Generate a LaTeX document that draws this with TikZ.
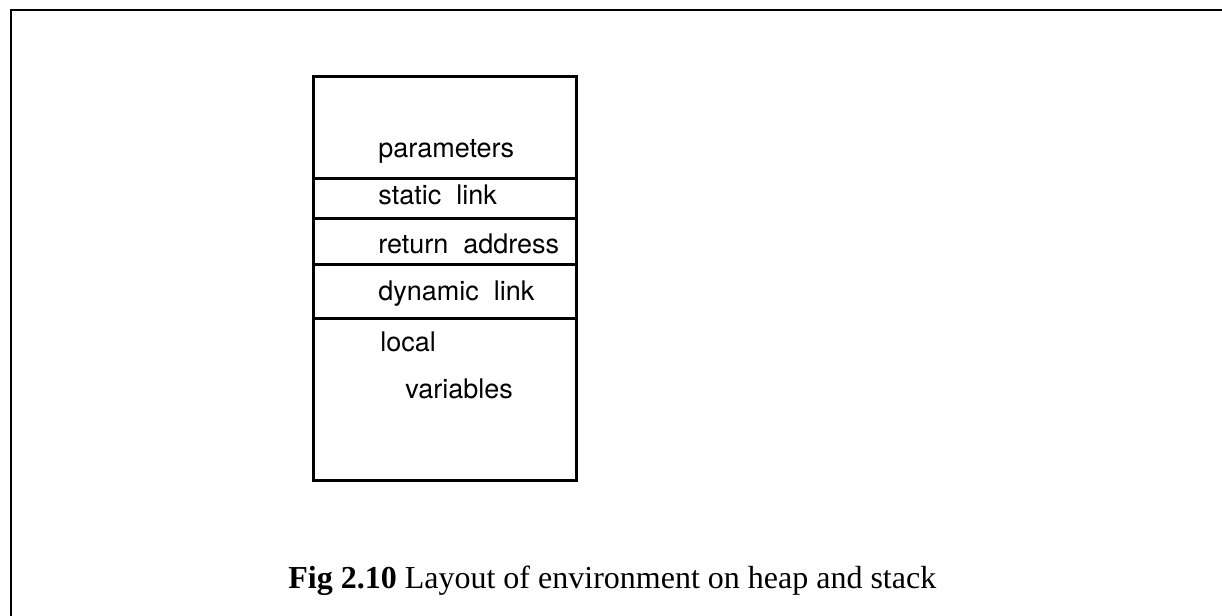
\documentclass[tikz,border=0pt]{standalone}
\usepackage{fontspec}
\setmainfont{Liberation Serif}
\newfontfamily\slotfont{TeX Gyre Heros}
\begin{document}
\begin{tikzpicture}[x=0.5pt,y=-0.5pt,
        frame/.style={line width=1.3pt},
        stackline/.style={line width=1.5pt},
        slot/.style={anchor=base west,inner sep=0pt,font=\slotfont\fontsize{13.5}{16}\selectfont}]
            \useasboundingbox (0,0) rectangle (1222,616);

            % Rahmen
            \draw[frame] (11,616) -- (11,10) -- (1222,10);

            % Stapel
            \coordinate (top) at (313,76);
            \coordinate (bot) at (576,480);
            \draw[stackline] (top) rectangle (bot);
            \foreach \y in {178,218,264,318}
                \draw[stackline] (313,\y) -- (576,\y);

            % Eintraege
            \node[slot] (param) at (378,157) {parameters};
            \node[slot] (static) at (378,204) {static~~link};
            \node[slot] (return) at (378,253) {return~~address};
            \node[slot] (dynamic) at (378,300) {dynamic~~link};
            \node[slot] (local) at (380,351) {local};
            \node[slot] (vars) at (405,398) {variables};

            % Unterschrift
            \node[anchor=base west,inner sep=0pt,font=\fontsize{16}{19}\selectfont] (caption) at (288,588)
                {\textbf{Fig 2.10} Layout of environment on heap and stack};
        \end{tikzpicture}
\end{document}
